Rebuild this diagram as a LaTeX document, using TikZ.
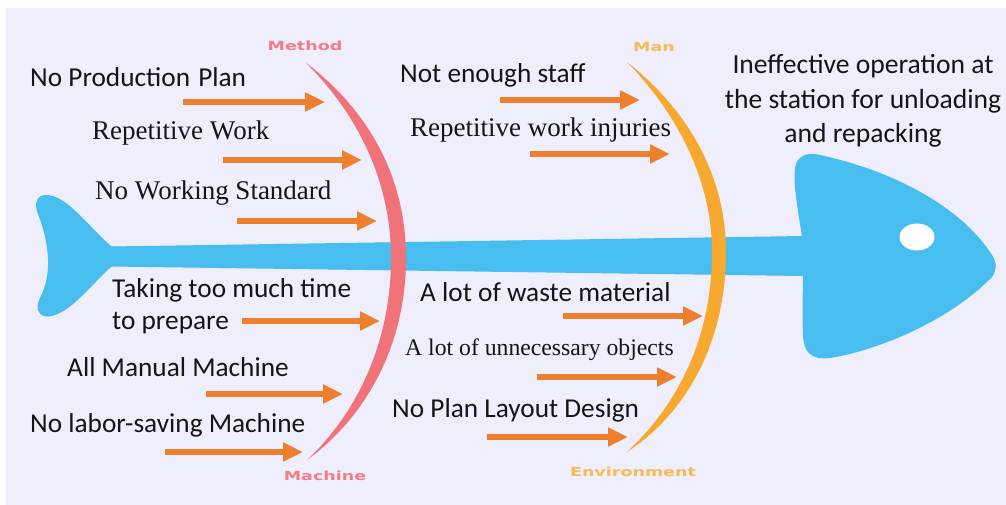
\documentclass[tikz,border=0pt]{standalone}
\usepackage{fontspec}
\setmainfont{Carlito}
\newfontfamily\serifface{Liberation Serif}
\newfontfamily\catface{DejaVu Sans Bold}
\usetikzlibrary{arrows.meta}

\definecolor{paper}{HTML}{EFEEFD}
\definecolor{bone}{HTML}{47BDF0}
\definecolor{methodred}{HTML}{F0737A}
\definecolor{methodlbl}{HTML}{F07E82}
\definecolor{mangold}{HTML}{F6A92E}
\definecolor{manlbl}{HTML}{F8BA55}
\definecolor{causeorange}{HTML}{EE7F2D}
\definecolor{ink}{HTML}{151515}

\tikzset{
  cause/.style={draw=causeorange, line width=6pt,
    -{Triangle[length=20pt,width=18pt]}},
  sanstxt/.style={anchor=west, inner sep=0pt, text=ink,
    font=\fontsize{27.3}{31}\selectfont},
  seriftxt/.style={anchor=west, inner sep=0pt, text=ink,
    font=\serifface\fontsize{27}{31}\selectfont},
  cattxt/.style={inner sep=0pt, font=\catface\fontsize{12.5}{14}\selectfont},
}

\begin{document}
\begin{tikzpicture}[x=1pt,y=-1pt]
\useasboundingbox (0,0) rectangle (1006,504);
\fill[white] (0,0) rectangle (1006,504);
\fill[paper] (6,8) rectangle (1012,510);

% ---- fish skeleton: tail, spine, head ----
\fill[bone] (112,247) .. controls (88,226) and (68,197) .. (48,195)
  .. controls (36,194) and (34,204) .. (38,214)
  .. controls (50,245) and (52,275) .. (40,298)
  .. controls (34,310) and (40,319) .. (52,316)
  .. controls (72,311) and (92,284) .. (112,266) -- cycle;
\fill[bone] (110,246.5) -- (803,236) -- (803,276) -- (110,266.5) -- cycle;
\fill[bone] (802,237) .. controls (798,210) and (793,185) .. (795,168)
  .. controls (797,155) and (808,152) .. (820,155)
  .. controls (890,170) and (960,205) .. (992,255)
  .. controls (997,263) and (997,270) .. (992,277)
  .. controls (950,320) and (880,350) .. (830,358)
  .. controls (810,360) and (804,352) .. (803,335)
  .. controls (802,310) and (803,290) .. (803,275) -- cycle;
\fill[white] (917,237) ellipse [x radius=17.5, y radius=13.5];

% ---- category ribs ----
\fill[methodred] (305,62) .. controls (362,105) and (406,170) .. (406,258)
  .. controls (406,350) and (362,420) .. (307,460)
  .. controls (355,415) and (391,345) .. (391,258)
  .. controls (391,175) and (352,108) .. (305,62) -- cycle;
\fill[mangold] (627,62) .. controls (682,105) and (726,170) .. (726,252)
  .. controls (726,345) and (684,415) .. (627,452)
  .. controls (672,410) and (712,345) .. (712,252)
  .. controls (712,175) and (672,108) .. (627,62) -- cycle;

\node[cattxt, text=methodlbl] (method) at (305,46) {\scalebox{1.4}[1]{Method}};
\node[cattxt, text=methodlbl] (machine) at (325,476) {\scalebox{1.4}[1]{Machine}};
\node[cattxt, text=manlbl] (man) at (654,47) {\scalebox{1.4}[1]{Man}};
\node[cattxt, text=manlbl] (environment) at (633,472) {\scalebox{1.4}[1]{Environment}};

% ---- causes, left of the method rib ----
\node[sanstxt] (c1) at (30,77) {No Production\hspace{2pt} Plan};
\node[seriftxt] (c2) at (92,133) {Repetitive Work};
\node[seriftxt] (c3) at (95,193) {No Working Standard};
\node[sanstxt] (c4a) at (112,290) {Taking too much time};
\node[sanstxt] (c4b) at (112,323) {to prepare};
\node[sanstxt] (c5) at (67,367) {All Manual Machine};
\node[sanstxt] (c6) at (30,425) {No labor-saving Machine};

% ---- causes, between the two ribs ----
\node[sanstxt] (c7) at (400,75) {Not enough staff};
\node[seriftxt] (c8) at (410,130) {Repetitive work injuries};
\node[sanstxt] (c9) at (420,292) {A lot of waste material};
\node[seriftxt, font=\serifface\fontsize{23.7}{28}\selectfont] (c10) at (405,350) {A lot of unnecessary objects};
\node[sanstxt] (c11) at (392,410) {No Plan Layout Design};

% ---- effect ----
\node[inner sep=0pt, align=center, text=ink,
  font=\fontsize{27.6}{34.5}\selectfont] (effect) at (863,101)
  {Ineffective operation at\\the station for unloading\\and repacking};

% ---- cause arrows ----
\coordinate (a1s) at (183,102); \coordinate (a1e) at (325,102);
\coordinate (a2s) at (223,160); \coordinate (a2e) at (362,160);
\coordinate (a3s) at (237,221); \coordinate (a3e) at (377,221);
\coordinate (a4s) at (242,321); \coordinate (a4e) at (380,321);
\coordinate (a5s) at (206,394); \coordinate (a5e) at (343,394);
\coordinate (a6s) at (165,452); \coordinate (a6e) at (303,452);
\coordinate (a7s) at (500,100); \coordinate (a7e) at (640,100);
\coordinate (a8s) at (530,154); \coordinate (a8e) at (670,154);
\coordinate (a9s) at (563,316); \coordinate (a9e) at (703,316);
\coordinate (a10s) at (537,377); \coordinate (a10e) at (677,377);
\coordinate (a11s) at (487,437); \coordinate (a11e) at (628,437);
\foreach \i in {1,...,11} { \draw[cause] (a\i s) -- (a\i e); }
\end{tikzpicture}
\end{document}
